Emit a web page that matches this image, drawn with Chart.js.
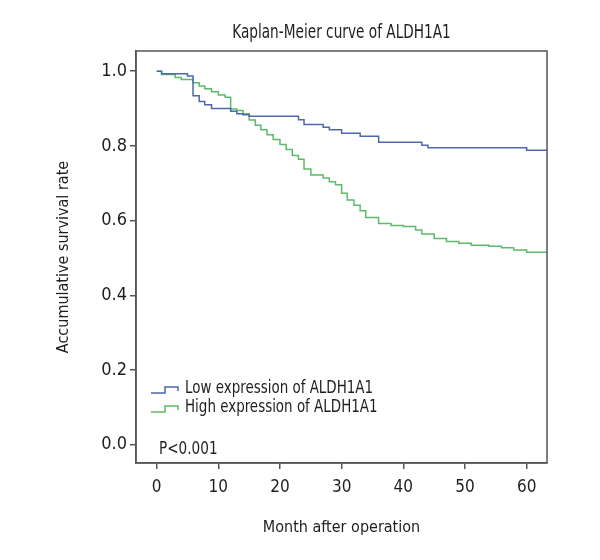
<!DOCTYPE html>
<html lang="en">
<head>
    <meta charset="UTF-8">
    <title>Kaplan-Meier curve of ALDH1A1</title>
    <script src="https://cdn.jsdelivr.net/npm/chart.js"></script>
    <style>
        body {
            margin: 0;
            background: #ffffff;
        }

        .chart-box {
            width: 600px;
            height: 560px;
        }
    </style>
</head>
<body>
    <div class="chart-box">
        <canvas id="kmChart" width="600" height="560"></canvas>
    </div>

    <script>
        // Values (month, cumulative survival)
        const lowMonths = [0, 0.8, 5.0, 5.9, 6.9, 7.8, 8.9, 12.0, 13.0, 14.0, 15.0, 23.0, 23.9, 27.0, 28.0, 30.0, 33.0, 36.0, 43.0, 44.0, 60.0, 63.3];
        const lowSurvival = [1.0, 0.993, 0.987, 0.934, 0.919, 0.910, 0.900, 0.893, 0.886, 0.883, 0.879, 0.870, 0.857, 0.850, 0.843, 0.834, 0.826, 0.810, 0.802, 0.795, 0.788, 0.788];

        const highMonths = [0, 0.8, 3.0, 4.0, 5.9, 6.9, 7.8, 8.9, 10.0, 11.1, 12.0, 13.0, 14.0, 15.0, 16.0, 16.9, 17.9, 18.9, 20.0, 21.0, 22.0, 23.0, 23.9, 25.0, 27.0, 28.0, 29.0, 30.0, 30.9, 32.0, 33.0, 33.9, 36.0, 38.0, 40.0, 42.0, 43.0, 45.0, 47.0, 49.0, 51.0, 53.9, 55.9, 57.9, 60.0, 63.3];
        const highSurvival = [1.0, 0.991, 0.983, 0.978, 0.969, 0.960, 0.953, 0.945, 0.936, 0.930, 0.899, 0.895, 0.886, 0.869, 0.855, 0.843, 0.830, 0.817, 0.804, 0.790, 0.774, 0.764, 0.738, 0.722, 0.714, 0.704, 0.696, 0.673, 0.655, 0.641, 0.626, 0.608, 0.592, 0.587, 0.584, 0.575, 0.564, 0.552, 0.544, 0.539, 0.534, 0.531, 0.527, 0.521, 0.515, 0.515];

        const xTicks = [0, 10, 20, 30, 40, 50, 60];
        const yTicks = [0, 0.2, 0.4, 0.6, 0.8, 1.0];

        const seriesNames = ['Low expression of ALDH1A1', 'High expression of ALDH1A1'];
        const seriesColors = ['#4e67ad', '#5dba6a'];

        const FONT = '"Liberation Sans Narrow", "DejaVu Sans Condensed", Arial, sans-serif';
        const TEXT = '#1e1e1e';
        const FRAME = '#555555';

        function toPoints(xs, ys) {
            return xs.map((x, i) => ({ x: x, y: ys[i] }));
        }

        // the original uses a condensed face, so squeeze the text a little
        function narrowText(ctx, text, x, y, squeeze) {
            ctx.save();
            ctx.translate(x, y);
            ctx.scale(squeeze, 1);
            ctx.fillText(text, 0, 0);
            ctx.restore();
        }

        // Title, legend, p-value and the box round the plot
        const extras = {
            id: 'extras',
            afterDraw(chart) {
                const ctx = chart.ctx;
                const area = chart.chartArea;
                ctx.save();

                ctx.strokeStyle = FRAME;
                ctx.lineWidth = 1.5;
                ctx.strokeRect(area.left, area.top, area.right - area.left, area.bottom - area.top);

                ctx.fillStyle = TEXT;
                ctx.font = '19px ' + FONT;
                ctx.textAlign = 'center';
                ctx.textBaseline = 'middle';
                narrowText(ctx, 'Kaplan-Meier curve of ALDH1A1', (area.left + area.right) / 2, 33, 0.8);

                // legend with little step icons
                ctx.font = '18px ' + FONT;
                ctx.textAlign = 'left';
                seriesNames.forEach((name, i) => {
                    const y = 388 + i * 19;
                    ctx.strokeStyle = seriesColors[i];
                    ctx.lineWidth = 1.5;
                    ctx.beginPath();
                    ctx.moveTo(151, y + 5);
                    ctx.lineTo(165, y + 5);
                    ctx.lineTo(165, y - 1);
                    ctx.lineTo(178, y - 1);
                    ctx.lineTo(178, y + 3);
                    ctx.stroke();
                    narrowText(ctx, name, 185, y, 0.83);
                });

                narrowText(ctx, 'P<0.001', 159, 449, 0.84);
                ctx.restore();
            }
        };

        const ctx = document.getElementById('kmChart').getContext('2d');
        new Chart(ctx, {
            type: 'line',
            data: {
                datasets: [
                    {
                        label: seriesNames[0],
                        data: toPoints(lowMonths, lowSurvival),
                        borderColor: seriesColors[0],
                        borderWidth: 1.5,
                        stepped: 'before',
                        pointRadius: 0,
                        fill: false
                    },
                    {
                        label: seriesNames[1],
                        data: toPoints(highMonths, highSurvival),
                        borderColor: seriesColors[1],
                        borderWidth: 1.5,
                        stepped: 'before',
                        pointRadius: 0,
                        fill: false
                    }
                ]
            },
            options: {
                responsive: false,
                animation: false,
                layout: {
                    padding: { left: 0, right: 53, top: 51, bottom: 0 }
                },
                plugins: {
                    legend: { display: false },
                    title: { display: false },
                    tooltip: { enabled: false }
                },
                scales: {
                    x: {
                        type: 'linear',
                        min: -3.35,
                        max: 63.3,
                        afterFit(scale) { scale.height = 97; },
                        afterBuildTicks(scale) { scale.ticks = xTicks.map(v => ({ value: v })); },
                        grid: { drawOnChartArea: false, tickLength: 6, color: FRAME, lineWidth: 1.5 },
                        border: { display: true, color: FRAME, width: 1.5 },
                        ticks: { color: TEXT, padding: 8, font: { family: FONT, size: 17 } },
                        title: {
                            display: true,
                            text: 'Month after operation',
                            color: TEXT,
                            padding: { top: 22, bottom: 23 },
                            font: { family: FONT, size: 16 }
                        }
                    },
                    y: {
                        type: 'linear',
                        min: -0.049,
                        max: 1.054,
                        afterFit(scale) { scale.width = 136; },
                        afterBuildTicks(scale) { scale.ticks = yTicks.map(v => ({ value: v })); },
                        grid: { drawOnChartArea: false, tickLength: 6, color: FRAME, lineWidth: 1.5 },
                        border: { display: true, color: FRAME, width: 1.5 },
                        ticks: {
                            color: TEXT,
                            padding: 3,
                            font: { family: FONT, size: 18 },
                            callback: v => v.toFixed(1)
                        },
                        title: {
                            display: true,
                            text: 'Accumulative survival rate',
                            color: TEXT,
                            padding: { top: 54, bottom: 54 },
                            font: { family: FONT, size: 16 }
                        }
                    }
                }
            },
            plugins: [extras]
        });
    </script>
</body>
</html>
